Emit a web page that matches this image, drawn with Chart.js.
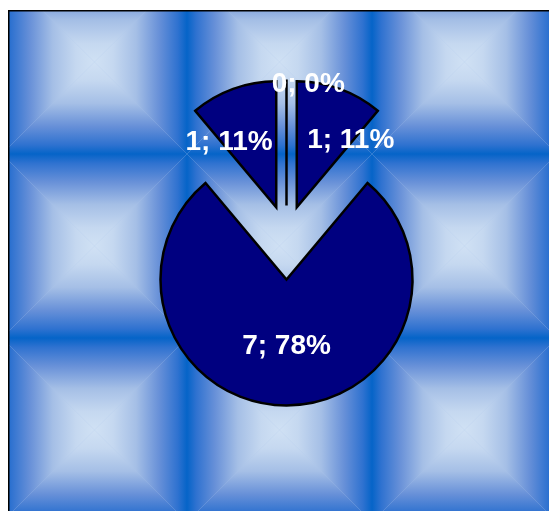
<!DOCTYPE html>
<html>
<head>
<meta charset="utf-8">
<script src="https://cdn.jsdelivr.net/npm/chart.js@4/dist/chart.umd.min.js"></script>
<style>
  html, body { margin: 0; padding: 0; background: #ffffff; }
  #wrap { width: 549px; height: 511px; }
</style>
</head>
<body>
<div id="wrap"><canvas id="c" width="549" height="511"></canvas></div>
<script>
// Slice categories and their counts (clockwise from 12 o'clock)
const categories = ['A', 'B', 'C', 'D'];
const counts = [0, 1, 7, 1];

// One bevelled square tile: four faces shading from the dark rim to the pale middle
function drawTile(ctx, x, y, w, h, base, stops) {
  const cx = x + w / 2, cy = y + h / 2;
  ctx.fillStyle = base;
  ctx.fillRect(x, y, w, h);
  const faces = [
    [[x, y], [x + w, y], [cx, y], [cx, cy]],
    [[x, y + h], [x + w, y + h], [cx, y + h], [cx, cy]],
    [[x, y], [x, y + h], [x, cy], [cx, cy]],
    [[x + w, y], [x + w, y + h], [x + w, cy], [cx, cy]]
  ];
  faces.forEach(([p1, p2, g0, g1]) => {
    const g = ctx.createLinearGradient(g0[0], g0[1], g1[0], g1[1]);
    stops.forEach(([o, c]) => g.addColorStop(o, c));
    ctx.beginPath();
    ctx.moveTo(p1[0], p1[1]);
    ctx.lineTo(p2[0], p2[1]);
    ctx.lineTo(cx, cy);
    ctx.closePath();
    ctx.fillStyle = g;
    ctx.fill();
  });
}

const tiledBackground = {
  id: 'tiledBackground',
  beforeDraw(chart, args, o) {
    const ctx = chart.ctx;
    const W = chart.width, H = chart.height;
    ctx.save();
    ctx.fillStyle = '#ffffff';
    ctx.fillRect(0, 0, W, H);
    ctx.beginPath();
    ctx.rect(o.frameX, o.frameY, W - o.frameX + 5, H - o.frameY + 5);
    ctx.clip();
    for (let ty = o.originY; ty < H; ty += o.tileH) {
      for (let tx = o.originX; tx < W; tx += o.tileW) {
        drawTile(ctx, tx, ty, o.tileW, o.tileH, o.base, o.stops);
      }
    }
    ctx.restore();
    ctx.save();
    ctx.strokeStyle = '#000000';
    ctx.lineWidth = 1.5;
    ctx.beginPath();
    ctx.moveTo(o.frameX + 0.75, H + 2);
    ctx.lineTo(o.frameX + 0.75, o.frameY + 0.75);
    ctx.lineTo(W + 2, o.frameY + 0.75);
    ctx.stroke();
    ctx.restore();
  }
};

// Draws each slice pulled out along its middle angle, a zero slice as one
// radial edge, and a "value; percent" label placed from each slice's tip.
const explodedPie = {
  id: 'explodedPie',
  beforeDatasetDraw(chart, args, o) {
    const ctx = chart.ctx;
    args.meta.data.forEach((arc, i) => {
      const mid = (arc.startAngle + arc.endAngle) / 2;
      const d = o.explode[i];
      const dx = Math.cos(mid) * d, dy = Math.sin(mid) * d;
      if (arc.circumference === 0) {
        const a = arc.startAngle;
        ctx.save();
        ctx.strokeStyle = o.zeroColor;
        ctx.lineWidth = o.zeroWidth;
        ctx.beginPath();
        ctx.moveTo(arc.x + dx, arc.y + dy);
        ctx.lineTo(arc.x + dx + Math.cos(a) * arc.outerRadius, arc.y + dy + Math.sin(a) * arc.outerRadius);
        ctx.stroke();
        ctx.restore();
        return;
      }
      ctx.save();
      ctx.translate(dx, dy);
      arc.draw(ctx, chart.chartArea);
      ctx.restore();
    });
    return false;
  },
  afterDatasetsDraw(chart, args, o) {
    const ctx = chart.ctx;
    const values = chart.data.datasets[0].data;
    const total = values.reduce((s, v) => s + v, 0);
    ctx.save();
    ctx.font = o.font;
    ctx.fillStyle = o.color;
    ctx.textAlign = 'center';
    ctx.textBaseline = 'alphabetic';
    chart.getDatasetMeta(0).data.forEach((arc, i) => {
      const mid = (arc.startAngle + arc.endAngle) / 2;
      const tipX = arc.x + Math.cos(mid) * o.explode[i];
      const tipY = arc.y + Math.sin(mid) * o.explode[i];
      const th = o.labelAngle[i] * Math.PI / 180;
      const r = o.labelDist[i] * arc.outerRadius;
      const lx = tipX + Math.sin(th) * r;
      const ly = tipY - Math.cos(th) * r;
      const v = values[i];
      const pct = Math.round(v / total * 100);
      ctx.fillText(v + '; ' + pct + '%', lx, ly + o.capHalf);
    });
    ctx.restore();
  }
};

new Chart(document.getElementById('c'), {
  type: 'pie',
  data: {
    labels: categories,
    datasets: [{
      data: counts,
      backgroundColor: '#000080',
      borderColor: '#000000',
      borderWidth: 2.5,
      borderJoinStyle: 'miter'
    }]
  },
  options: {
    responsive: false,
    animation: false,
    events: [],
    radius: 126,
    layout: { padding: { left: 24, right: 0, top: 0, bottom: 40 } },
    plugins: {
      legend: { display: false },
      tooltip: { enabled: false },
      tiledBackground: {
        frameX: 8, frameY: 10,
        originX: 2, originY: -30,
        tileW: 185, tileH: 184,
        base: '#a9c3ea',
        stops: [[0, '#0564c8'], [0.1, '#2f72d0'], [0.3, '#6790d8'], [0.55, '#a5bfe6'], [0.8, '#c5d8f0'], [1, '#d0e1f4']]
      },
      explodedPie: {
        explode: [30, 30, 44, 30],
        zeroWidth: 2.5,
        zeroColor: '#000000',
        font: 'bold 28px "Liberation Sans", Arial, sans-serif',
        color: '#ffffff',
        capHalf: 10,
        labelAngle: [10, 38, 180, -35],
        labelDist: [0.995, 0.696, 0.512, 0.653]
      }
    }
  },
  plugins: [tiledBackground, explodedPie]
});
</script>
</body>
</html>
